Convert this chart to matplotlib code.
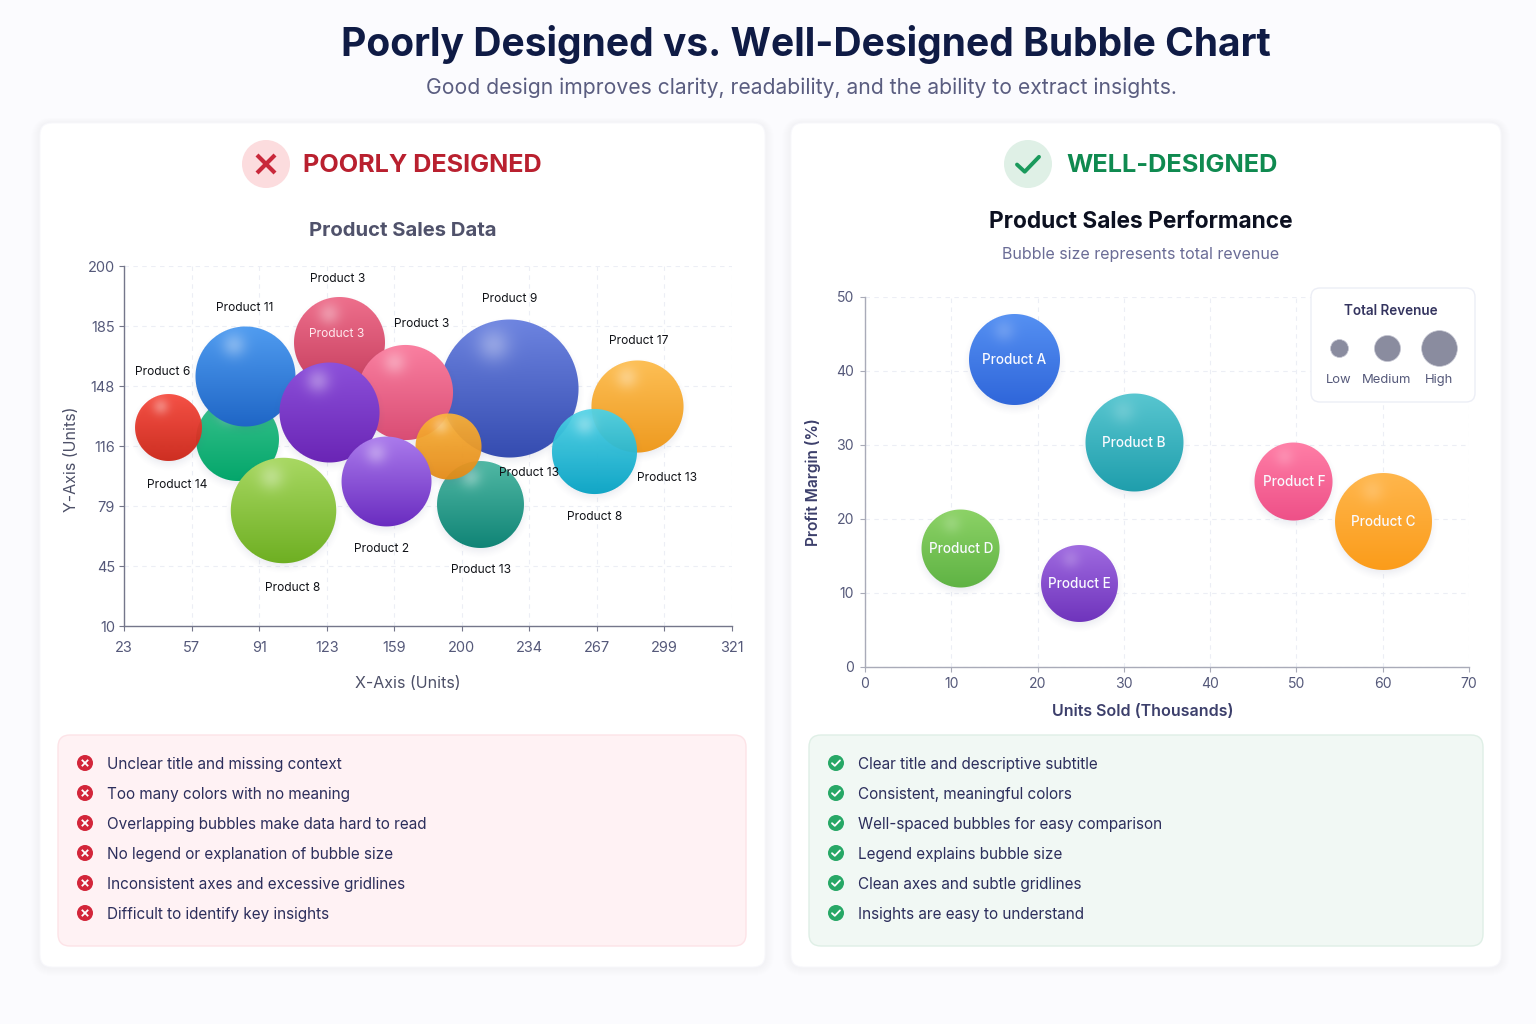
import numpy as np
import matplotlib
matplotlib.use("Agg")
import matplotlib.pyplot as plt
from matplotlib.colors import to_rgb
from matplotlib.offsetbox import AnnotationBbox, OffsetImage
from matplotlib.patches import Circle, FancyBboxPatch

plt.rcParams['font.family'] = ['Inter', 'DejaVu Sans']

# left chart: axis ticks are unevenly spaced values on evenly spaced positions
left_x_ticks = [23, 57, 91, 123, 159, 200, 234, 267, 299, 321]
left_y_ticks = [10, 45, 79, 116, 148, 185, 200]
left_x = [224.2, 129.6, 165.8, 79.9, 45.6, 83.9, 124.5, 286.2, 265.6, 102.6, 209.2, 191.8, 154.9]
left_y = [146.4, 174.8, 144.3, 119.7, 125.6, 153.9, 133.9, 136.8, 112.3, 76.2, 80.2, 115.4, 94.4]
left_revenue = [476, 207, 226, 172, 112, 250, 250, 212, 181, 278, 189, 109, 202]
left_top = ['#6d84e0', '#ee6f8c', '#fa7fa0', '#38c28c', '#f6483c', '#509cf0', '#8c50da',
            '#fdbf55', '#4ed2e6', '#a8d862', '#50b8a4', '#fbb238', '#aa7aec']
left_bottom = ['#354cb0', '#c63e5e', '#d94d74', '#04a66b', '#cc2416', '#1f66c6', '#6a25b5',
               '#ee9a20', '#05a2c4', '#6eaf22', '#108476', '#e48a16', '#6a2cc0']
left_opacity = [1, 1, 1, 1, 0.94, 1, 1, 1, 0.94, 1, 1, 0.93, 1]
left_labels = ['Product 3', 'Product 11', 'Product 3', 'Product 6', 'Product 14', 'Product 9',
               'Product 17', 'Product 13', 'Product 13', 'Product 8', 'Product 2', 'Product 13',
               'Product 8']
left_label_px = [(338, 279), (245, 308), (422, 324), (163, 372), (177, 485), (510, 299),
                 (639, 341), (529, 473), (667, 478), (595, 517), (382, 549), (481, 570),
                 (293, 588)]

# right chart
right_names = ['Product A', 'Product B', 'Product C', 'Product D', 'Product E', 'Product F']
right_x = [17.3, 31.2, 60.1, 11.1, 24.9, 49.7]
right_y = [41.6, 30.4, 19.6, 16.0, 11.3, 25.0]
right_revenue = [207, 240, 235, 152, 148, 152]
right_top = ['#5590f2', '#58c6d0', '#ffb64c', '#8cd266', '#9f6ae0', '#ff7ea6']
right_bottom = ['#2f66da', '#1f9eac', '#fb9c1a', '#5fb344', '#6f34bc', '#ee5088']
right_x_ticks = [0, 10, 20, 30, 40, 50, 60, 70]
right_y_ticks = [0, 10, 20, 30, 40, 50]

legend_names = ['Low', 'Medium', 'High']
legend_revenue = [8, 17, 32]

bad_points = ['Unclear title and missing context', 'Too many colors with no meaning',
              'Overlapping bubbles make data hard to read', 'No legend or explanation of bubble size',
              'Inconsistent axes and excessive gridlines', 'Difficult to identify key insights']
good_points = ['Clear title and descriptive subtitle', 'Consistent, meaningful colors',
               'Well-spaced bubbles for easy comparison', 'Legend explains bubble size',
               'Clean axes and subtle gridlines', 'Insights are easy to understand']

W, H = 1536, 1024
PX = 0.72  # font points per pixel at dpi 100


def radius_px(rev):
    return np.sqrt(rev * 10.0)


def sphere_sprite(r, top, bottom, shine, opacity):
    """RGBA image of a shaded ball with a soft drop shadow."""
    half = int(np.ceil(r + 14))
    yy, xx = np.mgrid[-half:half + 1, -half:half + 1].astype(float)
    dist = np.hypot(xx, yy)
    disc = np.clip(r + 0.5 - dist, 0, 1)
    t = np.clip((yy + r) / (2 * r), 0, 1)[..., None]
    rgb = np.array(to_rgb(top)) * (1 - t) + np.array(to_rgb(bottom)) * t
    glow = shine * np.exp(-((xx + 0.23 * r) ** 2 + (yy + 0.63 * r) ** 2) / (2 * (0.17 * r) ** 2))
    rgb = rgb * (1 - glow[..., None]) + glow[..., None]
    shadow = 0.10 * np.clip((r + 7 - np.hypot(xx, yy - 4)) / 10, 0, 1) ** 1.5
    alpha = disc * opacity
    out_a = alpha + shadow * (1 - alpha)
    # shadow colour is a dark slate, only visible outside the disc
    shade = np.array([0.35, 0.38, 0.55])
    out_rgb = (rgb * alpha[..., None] + shade * (shadow * (1 - alpha))[..., None]) / np.maximum(out_a, 1e-6)[..., None]
    return np.dstack([out_rgb, out_a])


def draw_bubble(ax, x, y, rev, top, bottom, z, shine, opacity=1.0):
    r = radius_px(rev)
    size = (2 * (r - 1) * PX) ** 2
    ax.scatter([x], [y], s=size, color=bottom, alpha=0.15, linewidths=0, zorder=z, clip_on=False)
    img = OffsetImage(sphere_sprite(r, top, bottom, shine, opacity), zoom=1, dpi_cor=False)
    box = AnnotationBbox(img, (x, y), xycoords='data', frameon=False, pad=0,
                         annotation_clip=False, zorder=z + 0.5)
    ax.add_artist(box)


def px_axes(x0, y_top, x1, y_bottom):
    return fig.add_axes([x0 / W, 1 - y_bottom / H, (x1 - x0) / W, (y_bottom - y_top) / H])


def round_box(ax, x0, y0, x1, y1, rad, **kw):
    ax.add_patch(FancyBboxPatch((x0 + rad, y0 + rad), x1 - x0 - 2 * rad, y1 - y0 - 2 * rad,
                                boxstyle=f'round,pad={rad},rounding_size={rad}', **kw))


def draw_cross(ax, cx, cy, h, color, lw):
    ax.plot([cx - h, cx + h], [cy - h, cy + h], color=color, lw=lw, solid_capstyle='butt')
    ax.plot([cx - h, cx + h], [cy + h, cy - h], color=color, lw=lw, solid_capstyle='butt')


def draw_check(ax, cx, cy, h, color, lw):
    ax.plot([cx - h, cx - 0.3 * h, cx + h], [cy + 0.05 * h, cy + 0.7 * h, cy - 0.65 * h],
            color=color, lw=lw, solid_capstyle='round', solid_joinstyle='round')


def style_axes(ax, spine_color, tick_size, x_pad, y_pad):
    ax.patch.set_alpha(0)
    ax.spines['top'].set_visible(False)
    ax.spines['right'].set_visible(False)
    for side in ('left', 'bottom'):
        ax.spines[side].set_color(spine_color)
        ax.spines[side].set_linewidth(1.0)
    ax.tick_params(axis='both', which='major', length=5 * PX, width=0.8, color=spine_color,
                   labelsize=tick_size * PX, labelcolor='#55597a')
    ax.tick_params(axis='x', pad=x_pad * PX)
    ax.tick_params(axis='y', pad=y_pad * PX)
    ax.tick_params(which='minor', length=0)
    ax.grid(True, color='#eceef5', lw=0.8, ls=(0, (4, 4)))
    ax.set_axisbelow(True)


fig = plt.figure(figsize=(W / 100, H / 100), dpi=100, facecolor='#fbfbfe')

# page chrome: cards, headers and note panels
back = fig.add_axes([0, 0, 1, 1], zorder=0)
back.set_xlim(0, W)
back.set_ylim(H, 0)
back.axis('off')

for x0, x1 in [(40, 765), (791, 1501)]:
    for grow in range(1, 10):
        round_box(back, x0 - grow, 123 - grow * 0.6, x1 + grow, 967 + grow, 12 + grow,
                  fc='#5a5f96', ec='none', alpha=0.0025)
    round_box(back, x0, 123, x1, 967, 12, fc='white', ec='#f8f8fc', lw=0.8)

round_box(back, 58, 735, 746, 946, 12, fc='#fff2f4', ec='#fde3e7', lw=1)
round_box(back, 809, 735, 1483, 946, 12, fc='#f1f8f4', ec='#dfefe6', lw=1)

back.text(805.5, 44, 'Poorly Designed vs. Well-Designed Bubble Chart', fontsize=39 * PX,
          fontweight='bold', color='#0f1b45', ha='center', va='center')
back.text(801, 88, 'Good design improves clarity, readability, and the ability to extract insights.',
          fontsize=21.1 * PX, color='#5a5d80', ha='center', va='center')

back.add_patch(Circle((266, 164), 24, fc='#fcdcde', ec='none'))
draw_cross(back, 266, 164, 9, '#c9283a', 3.0)
back.text(303, 165.5, 'POORLY DESIGNED', fontsize=25.2 * PX, fontweight='bold', color='#b9202f',
          ha='left', va='center')
back.add_patch(Circle((1028, 164), 24, fc='#dff0e6', ec='none'))
draw_check(back, 1028, 164, 11, '#1a9a5c', 2.8)
back.text(1066, 165.5, 'WELL-DESIGNED', fontsize=25.4 * PX, fontweight='bold', color='#0f8a50',
          ha='left', va='center')

back.text(403, 230.5, 'Product Sales Data', fontsize=20.3 * PX, fontweight='bold', color='#50526b',
          ha='center', va='center')
back.text(1141, 222.5, 'Product Sales Performance', fontsize=22.7 * PX, fontweight='bold', color='#0c1020',
          ha='center', va='center')
back.text(1141, 255, 'Bubble size represents total revenue', fontsize=16 * PX, color='#6a6c96',
          ha='center', va='center')

for i, (bad, good) in enumerate(zip(bad_points, good_points)):
    row_y = 763 + i * 30
    back.add_patch(Circle((85, row_y), 8, fc='#d3263a', ec='none'))
    draw_cross(back, 85, row_y, 3.2, 'white', 1.3)
    back.text(107, row_y + 1, bad, fontsize=15.3 * PX, color='#2c2e5c', ha='left', va='center')
    back.add_patch(Circle((836, row_y), 8, fc='#27a866', ec='none'))
    draw_check(back, 836, row_y, 4, 'white', 1.3)
    back.text(858, row_y + 1, good, fontsize=15.3 * PX, color='#2c2e5c', ha='left', va='center')

# left chart
ax1 = px_axes(124, 266, 732, 626)
ax1.set_zorder(1)
x_pos = np.arange(len(left_x_ticks), dtype=float)
y_pos = np.arange(len(left_y_ticks), dtype=float)
ax1.set_xscale('function', functions=(lambda v: np.interp(v, left_x_ticks, x_pos),
                                      lambda p: np.interp(p, x_pos, left_x_ticks)))
ax1.set_yscale('function', functions=(lambda v: np.interp(v, left_y_ticks, y_pos),
                                      lambda p: np.interp(p, y_pos, left_y_ticks)))
ax1.set_xlim(left_x_ticks[0], left_x_ticks[-1])
ax1.set_ylim(left_y_ticks[0], left_y_ticks[-1])
ax1.set_xticks(left_x_ticks, [str(v) for v in left_x_ticks])
ax1.set_yticks(left_y_ticks, [str(v) for v in left_y_ticks])
style_axes(ax1, '#74768a', 14.5, 9.5, 4)
for i in range(len(left_x)):
    draw_bubble(ax1, left_x[i], left_y[i], left_revenue[i], left_top[i], left_bottom[i], 3 + i, 0.30,
                left_opacity[i])

# right chart
ax2 = px_axes(865, 297, 1469, 667)
ax2.set_zorder(1)
ax2.set_xlim(0, 70)
ax2.set_ylim(0, 50)
ax2.set_xticks(right_x_ticks)
ax2.set_yticks(right_y_ticks)
style_axes(ax2, '#a9abb8', 14, 5, 6)
for i in range(len(right_x)):
    draw_bubble(ax2, right_x[i], right_y[i], right_revenue[i], right_top[i], right_bottom[i], 3 + i, 0.16)

# text and legend that sit above the bubbles
front = fig.add_axes([0, 0, 1, 1], zorder=3)
front.set_xlim(0, W)
front.set_ylim(H, 0)
front.axis('off')
front.patch.set_alpha(0)

for name, (lx, ly) in zip(left_labels, left_label_px):
    front.text(lx, ly, name, fontsize=12 * PX, color='#111318', ha='center', va='center')
front.text(337, 334, 'Product 3', fontsize=12 * PX, color='#ffe9ee', ha='center', va='center')
for name, x, y in zip(right_names, right_x, right_y):
    cx, cy = ax2.transData.transform((x, y))
    front.text(cx, H - cy + 0.5, name, fontsize=13.5 * PX, color='#f9faff', fontweight='medium',
               ha='center', va='center')

front.text(408, 683, 'X-Axis (Units)', fontsize=16 * PX, color='#4d5068', ha='center', va='center')
front.text(71, 459, 'Y-Axis (Units)', fontsize=16 * PX, color='#4d5068', rotation=90,
           ha='center', va='center')
front.text(1143, 711, 'Units Sold (Thousands)', fontsize=16 * PX, color='#3c3f6b', fontweight='semibold',
           ha='center', va='center')
front.text(813, 482, 'Profit Margin (%)', fontsize=15.5 * PX, color='#3c3f6b', fontweight='semibold',
           rotation=90, ha='center', va='center')

round_box(front, 1311, 288, 1475, 402, 9, fc='white', ec='#eceef6', lw=1)
front.text(1391, 311, 'Total Revenue', fontsize=13.5 * PX, color='#34345f', fontweight='semibold',
           ha='center', va='center')
legend_cx = [1339, 1386.5, 1439]
for name, rev, cx in zip(legend_names, legend_revenue, legend_cx):
    r = radius_px(rev)
    front.scatter([cx], [348], s=(2 * r * PX) ** 2, color='#8a8c9f', linewidths=0.5, edgecolors='#c5c6d2')
    front.text(cx, 380, name, fontsize=13 * PX, color='#55597a', ha='center', va='center')

fig.savefig('out.png', dpi=100, facecolor=fig.get_facecolor())
